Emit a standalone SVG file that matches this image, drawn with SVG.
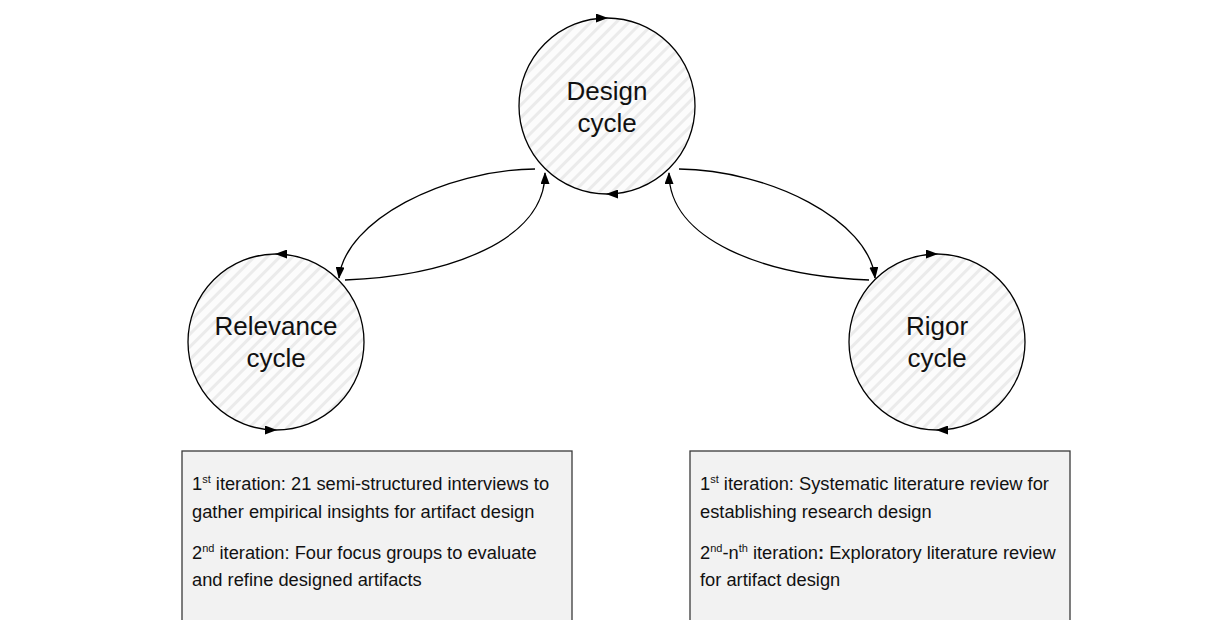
<svg xmlns="http://www.w3.org/2000/svg" width="1209" height="620" viewBox="0 0 1209 620">
  <style>
    .cyc { fill: url(#hatch); stroke: none; }
    .ring { fill: none; stroke: #000; stroke-width: 1.3; marker-end: url(#tri); }
    .conn { fill: none; stroke: #000; stroke-width: 1.3; }
    .lbl { font-family: "Liberation Sans", Arial, sans-serif; font-size: 26px; fill: #111; text-anchor: middle; }
    .box { fill: #f2f2f2; stroke: #3a3a3a; stroke-width: 1.3; }
    .txt { font-family: "Liberation Sans", Arial, sans-serif; font-size: 18.3px; fill: #111; }
    .sup { font-size: 11px; }
  </style>
  <defs>
    <pattern id="hatch" width="9" height="9" patternUnits="userSpaceOnUse" patternTransform="rotate(45)">
      <rect width="9" height="9" fill="#fcfcfc"/>
      <rect width="3" height="9" fill="#ebebeb"/>
    </pattern>
    <marker id="tri" viewBox="0 0 12 9" refX="11" refY="4.5" markerWidth="12" markerHeight="9" markerUnits="userSpaceOnUse" orient="auto">
      <path d="M0,0 L12,4.5 L0,9 z" fill="#000"/>
    </marker>
  </defs>

  <!-- Design cycle (clockwise) -->
  <g id="design">
    <circle class="cyc" cx="607" cy="106" r="88"/>
    <path class="ring" d="M607,194 A88,88 0 0 1 607,18"/>
    <path class="ring" d="M607,18 A88,88 0 0 1 607,194"/>
    <text class="lbl" x="607" y="100">Design</text>
    <text class="lbl" x="607" y="132">cycle</text>
  </g>

  <!-- Relevance cycle (counter-clockwise) -->
  <g id="relevance">
    <circle class="cyc" cx="276" cy="342" r="88"/>
    <path class="ring" d="M276,430 A88,88 0 0 0 276,254"/>
    <path class="ring" d="M276,254 A88,88 0 0 0 276,430"/>
    <text class="lbl" x="276" y="335">Relevance</text>
    <text class="lbl" x="276" y="367">cycle</text>
  </g>

  <!-- Rigor cycle (clockwise) -->
  <g id="rigor">
    <circle class="cyc" cx="937" cy="342" r="88"/>
    <path class="ring" d="M937,430 A88,88 0 0 1 937,254"/>
    <path class="ring" d="M937,254 A88,88 0 0 1 937,430"/>
    <text class="lbl" x="937" y="335">Rigor</text>
    <text class="lbl" x="937" y="367">cycle</text>
  </g>

  <!-- links between the cycles -->
  <g id="connectors">
    <path class="conn" marker-end="url(#tri)" d="M535,169 C445,170 345,220 339,278"/>
    <path class="conn" marker-end="url(#tri)" d="M345,280 C450,276 545,240 545,173"/>
    <path class="conn" marker-end="url(#tri)" d="M679,169 C769,170 869,220 875,278"/>
    <path class="conn" marker-end="url(#tri)" d="M869,280 C764,276 669,240 669,173"/>
  </g>

  <!-- Relevance activities -->
  <g id="relevance-notes">
    <rect class="box" x="182" y="451" width="390" height="185"/>
    <text class="txt" x="192" y="490">1<tspan class="sup" dy="-7">st</tspan><tspan dy="7"> iteration: 21 semi-structured interviews to</tspan></text>
    <text class="txt" x="192" y="518">gather empirical insights for artifact design</text>
    <text class="txt" x="192" y="559">2<tspan class="sup" dy="-7">nd</tspan><tspan dy="7"> iteration: Four focus groups to evaluate</tspan></text>
    <text class="txt" x="192" y="586">and refine designed artifacts</text>
  </g>

  <!-- Rigor activities -->
  <g id="rigor-notes">
    <rect class="box" x="690" y="451" width="380" height="185"/>
    <text class="txt" x="700" y="490">1<tspan class="sup" dy="-7">st</tspan><tspan dy="7"> iteration: Systematic literature review for</tspan></text>
    <text class="txt" x="700" y="518">establishing research design</text>
    <text class="txt" x="700" y="559">2<tspan class="sup" dy="-7">nd</tspan><tspan dy="7">-n</tspan><tspan class="sup" dy="-7">th</tspan><tspan dy="7"> iteration</tspan><tspan font-weight="bold">:</tspan> Exploratory literature review</text>
    <text class="txt" x="700" y="586">for artifact design</text>
  </g>
</svg>
